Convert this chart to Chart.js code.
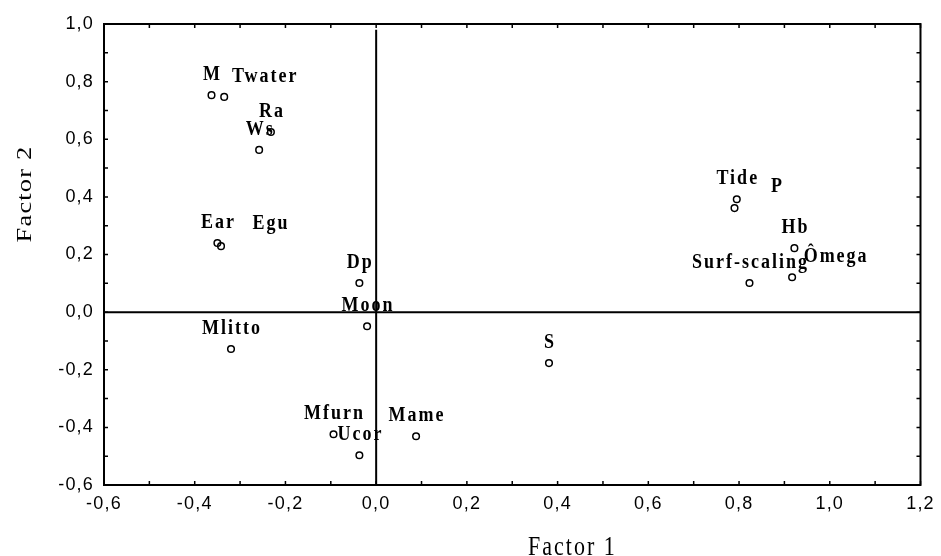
<!DOCTYPE html>
<html>
<head>
<meta charset="utf-8">
<script src="https://cdn.jsdelivr.net/npm/chart.js@4.4.0/dist/chart.umd.min.js"></script>
<style>
    html, body { margin: 0; padding: 0; background: #fff; }
</style>
</head>
<body>
<canvas id="factorChart" width="941" height="556"></canvas>
<script>
// Variable names and their loadings on the two factors
const variables = ['M', 'Twater', 'Ra', 'Ws', 'Ear', 'Egu', 'Dp', 'Moon', 'Mlitto',
    'Mfurn', 'Ucor', 'Mame', 'S', 'Tide', 'P', 'Hb', 'Ômega', 'Surf-scaling'];
const factor1 = [-0.363, -0.335, -0.232, -0.258, -0.350, -0.342, -0.037, -0.020, -0.320,
    -0.094, -0.037, 0.088, 0.381, 0.795, 0.790, 0.922, 0.917, 0.823];
const factor2 = [0.753, 0.747, 0.625, 0.563, 0.240, 0.229, 0.101, -0.049, -0.128,
    -0.424, -0.497, -0.431, -0.177, 0.392, 0.361, 0.222, 0.121, 0.101];
const xRange = [-0.6, 1.2];
const yRange = [-0.6, 1.0];
const tickStep = 0.1;

// label nudges in px (only labels that were pushed aside in the original)
const labelNudge = { 'Twater': [40, 0], 'Egu': [49, -2], 'P': [42, -1], 'Ômega': [43, 0] };

const fmtTick = v => (Math.round(Math.abs(v) * 10) % 2 === 0) ? v.toFixed(1).replace('.', ',') : '';

const framePlugin = {
    id: 'frame',
    beforeDraw(chart) {
        chart.ctx.letterSpacing = '1.2px';
    },
    beforeDatasetsDraw(chart) {
        const { ctx, chartArea: a, scales: { x, y } } = chart;
        ctx.save();
        ctx.strokeStyle = '#000';
        ctx.lineWidth = 2;
        // zero lines
        const x0 = x.getPixelForValue(0), y0 = y.getPixelForValue(0);
        ctx.beginPath();
        ctx.moveTo(x0, y.getPixelForValue(0.98));
        ctx.lineTo(x0, a.bottom);
        ctx.moveTo(a.left, y0);
        ctx.lineTo(a.right, y0);
        ctx.stroke();
        // frame
        ctx.strokeRect(a.left, a.top, a.right - a.left, a.bottom - a.top);
        // inward tick marks on all four sides
        ctx.lineWidth = 1.5;
        ctx.beginPath();
        x.ticks.forEach(t => {
            const px = x.getPixelForValue(t.value);
            ctx.moveTo(px, a.bottom); ctx.lineTo(px, a.bottom - 4);
            ctx.moveTo(px, a.top); ctx.lineTo(px, a.top + 4);
        });
        y.ticks.forEach(t => {
            const py = y.getPixelForValue(t.value);
            ctx.moveTo(a.left, py); ctx.lineTo(a.left + 4, py);
            ctx.moveTo(a.right, py); ctx.lineTo(a.right - 4, py);
        });
        ctx.stroke();
        ctx.restore();
    },
    afterDatasetsDraw(chart) {
        const { ctx } = chart;
        const meta = chart.getDatasetMeta(0);
        ctx.save();
        ctx.fillStyle = '#000';
        ctx.font = 'bold 18px "Liberation Serif"';
        ctx.letterSpacing = '2px';
        ctx.textAlign = 'center';
        ctx.textBaseline = 'alphabetic';
        meta.data.forEach((pt, i) => {
            const name = variables[i];
            const n = labelNudge[name] || [0, 0];
            ctx.save();
            ctx.translate(pt.x + 1 + n[0], pt.y - 15 + n[1]);
            ctx.scale(1, 1.2);
            ctx.fillText(name, 0, 0);
            ctx.restore();
        });

        // axis titles
        ctx.font = '22px "Liberation Serif"';
        ctx.letterSpacing = '2px';
        ctx.textAlign = 'left';
        ctx.save();
        ctx.translate(528, 555);
        ctx.scale(1, 1.2);
        ctx.fillText('Factor 1', 0, 0);
        ctx.restore();

        ctx.letterSpacing = '1px';
        ctx.textAlign = 'center';
        ctx.save();
        ctx.translate(31, 194);
        ctx.rotate(-Math.PI / 2);
        ctx.scale(1.2, 1);
        ctx.fillText('Factor 2', 0, 0);
        ctx.restore();
        ctx.restore();
    }
};

const ctx = document.getElementById('factorChart').getContext('2d');

new Chart(ctx, {
    type: 'scatter',
    data: {
        datasets: [{
            label: 'Loadings',
            data: factor1.map((v, i) => ({ x: v, y: factor2[i] })),
            pointStyle: 'circle',
            pointRadius: 3.3,
            pointBorderWidth: 1.5,
            pointBorderColor: '#000',
            pointBackgroundColor: 'rgba(255,255,255,0)'
        }]
    },
    options: {
        responsive: false,
        animation: false,
        layout: { padding: { top: 24, right: 15, left: 0, bottom: 0 } },
        plugins: {
            legend: { display: false },
            tooltip: { enabled: false }
        },
        scales: {
            x: {
                type: 'linear',
                min: xRange[0],
                max: xRange[1],
                grid: { display: false, drawTicks: false },
                border: { display: false },
                ticks: {
                    stepSize: tickStep,
                    autoSkip: false,
                    maxRotation: 0,
                    padding: 8,
                    color: '#000',
                    font: { family: '"Liberation Sans"', size: 18 },
                    callback: fmtTick
                },
                afterFit: s => { s.height = 71; }
            },
            y: {
                type: 'linear',
                min: yRange[0],
                max: yRange[1],
                grid: { display: false, drawTicks: false },
                border: { display: false },
                ticks: {
                    stepSize: tickStep,
                    autoSkip: false,
                    padding: 10,
                    color: '#000',
                    font: { family: '"Liberation Sans"', size: 18 },
                    callback: fmtTick
                },
                afterFit: s => { s.width = 104; }
            }
        }
    },
    plugins: [framePlugin]
});
</script>
</body>
</html>
